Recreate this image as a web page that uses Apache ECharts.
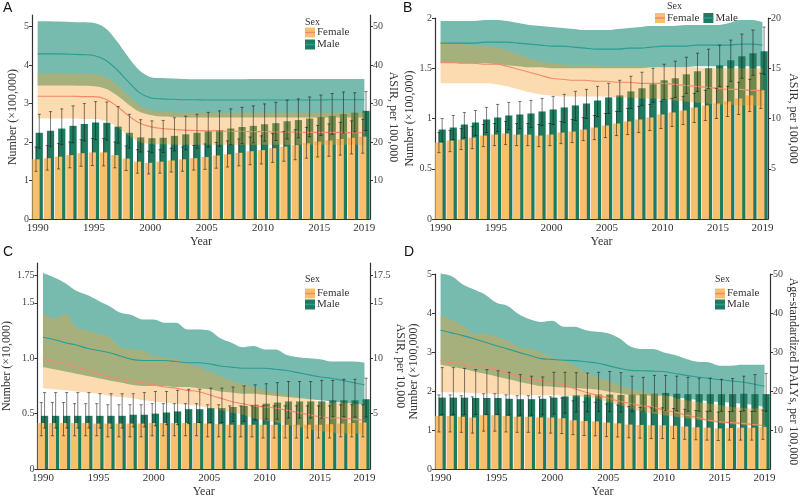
<!DOCTYPE html>
<html><head><meta charset="utf-8">
<script src="https://cdn.jsdelivr.net/npm/echarts@6/dist/echarts.min.js"></script>
<style>html,body{margin:0;padding:0;background:#fff}#c{width:800px;height:499px}</style>
</head><body><div id="c"></div><script>
const years = ['1990','1991','1992','1993','1994','1995','1996','1997','1998','1999','2000','2001','2002','2003','2004','2005','2006','2007','2008','2009','2010','2011','2012','2013','2014','2015','2016','2017','2018','2019'];

// ---------- Panel A ----------
const A_fNum = [1.55,1.58,1.62,1.66,1.71,1.73,1.73,1.66,1.57,1.49,1.46,1.49,1.52,1.55,1.58,1.61,1.65,1.68,1.72,1.76,1.79,1.84,1.88,1.92,1.97,2.01,2.04,2.08,2.11,2.14];
const A_fNumLo = [1.24,1.27,1.30,1.33,1.37,1.39,1.38,1.33,1.26,1.19,1.17,1.19,1.22,1.24,1.27,1.29,1.32,1.35,1.38,1.41,1.43,1.47,1.50,1.54,1.58,1.61,1.63,1.66,1.69,1.71];
const A_fNumHi = [1.87,1.91,1.96,2.00,2.06,2.09,2.09,2.00,1.90,1.80,1.76,1.80,1.84,1.87,1.91,1.95,1.99,2.03,2.08,2.13,2.16,2.22,2.27,2.32,2.38,2.43,2.47,2.51,2.55,2.59];
const A_mNum = [2.24,2.29,2.35,2.42,2.47,2.51,2.50,2.40,2.24,2.12,2.10,2.11,2.16,2.20,2.24,2.28,2.31,2.35,2.39,2.42,2.46,2.49,2.54,2.57,2.61,2.65,2.68,2.73,2.76,2.81];
const A_mNumLo = [1.84,1.88,1.93,1.98,2.03,2.06,2.05,1.97,1.84,1.74,1.72,1.73,1.77,1.80,1.84,1.87,1.89,1.93,1.96,1.98,2.02,2.04,2.08,2.11,2.14,2.17,2.20,2.24,2.26,2.30];
const A_mNumHi = [2.72,2.79,2.86,2.94,3.00,3.05,3.04,2.92,2.72,2.58,2.55,2.56,2.63,2.67,2.72,2.77,2.81,2.86,2.90,2.94,2.99,3.03,3.09,3.12,3.17,3.22,3.26,3.30,3.28,3.31];
const A_fRate = [31.9,31.9,31.9,31.9,31.8,31.8,31.2,29.4,27.0,25.0,24.0,23.5,23.3,23.1,23.0,22.9,22.9,22.8,22.8,22.7,22.7,22.6,22.6,22.6,22.5,22.5,22.5,22.5,22.4,22.4];
const A_fRateLo = [26.1,26.1,26.1,26.1,26.0,26.0,25.5,24.0,21.8,20.1,19.5,19.4,19.3,19.3,19.3,19.3,19.3,19.3,19.3,19.3,19.3,19.3,19.3,19.3,19.3,19.3,19.3,19.3,19.3,19.3];
const A_fRateHi = [37.8,37.8,37.8,37.8,37.7,37.6,36.9,35.0,32.2,29.6,28.3,27.9,27.7,27.6,27.6,27.6,27.6,27.6,27.6,27.6,27.6,27.6,27.6,27.6,27.6,27.6,27.6,27.6,27.6,27.6];
const A_mRate = [42.9,42.9,42.9,42.8,42.7,42.5,41.3,38.9,35.8,32.9,31.5,31.2,31.1,31.0,31.0,30.9,30.9,30.9,30.9,30.9,30.9,30.9,30.9,30.9,30.9,30.9,31.0,31.0,31.0,31.0];
const A_mRateLo = [34.7,34.7,34.7,34.7,34.6,34.5,33.9,32.2,29.9,27.9,27.0,26.6,26.5,26.4,26.4,26.4,26.4,26.4,26.4,26.4,26.4,26.4,26.4,26.4,26.4,26.4,26.4,26.4,26.4,26.4];
const A_mRateHi = [51.4,51.4,51.3,51.2,51.1,50.9,49.6,46.3,42.3,38.7,36.9,36.6,36.5,36.4,36.3,36.3,36.3,36.3,36.3,36.4,36.4,36.4,36.4,36.4,36.4,36.4,36.4,36.4,36.4,36.4];

// ---------- Panel B ----------
const B_fNum = [0.76,0.78,0.79,0.81,0.83,0.84,0.85,0.84,0.84,0.83,0.84,0.86,0.87,0.89,0.91,0.93,0.95,0.97,0.99,1.01,1.04,1.06,1.08,1.11,1.13,1.15,1.17,1.20,1.23,1.28];
const B_fNumLo = [0.66,0.67,0.69,0.70,0.72,0.73,0.74,0.73,0.73,0.72,0.73,0.75,0.76,0.78,0.79,0.81,0.83,0.84,0.86,0.88,0.90,0.92,0.94,0.96,0.98,1.00,1.02,1.04,1.07,1.10];
const B_fNumHi = [0.86,0.88,0.90,0.92,0.94,0.95,0.97,0.95,0.95,0.94,0.95,0.97,0.99,1.01,1.03,1.05,1.07,1.10,1.12,1.14,1.17,1.20,1.22,1.25,1.28,1.30,1.32,1.36,1.39,1.45];
const B_mNum = [0.89,0.91,0.94,0.96,0.99,1.01,1.03,1.04,1.05,1.07,1.09,1.11,1.13,1.15,1.18,1.21,1.23,1.27,1.30,1.34,1.38,1.40,1.44,1.47,1.50,1.53,1.58,1.62,1.65,1.67];
const B_mNumLo = [0.77,0.79,0.81,0.83,0.86,0.87,0.89,0.90,0.91,0.93,0.94,0.96,0.98,1.00,1.02,1.05,1.07,1.10,1.13,1.16,1.19,1.21,1.25,1.27,1.30,1.32,1.37,1.40,1.43,1.44];
const B_mNumHi = [1.00,1.03,1.06,1.08,1.11,1.14,1.16,1.17,1.18,1.20,1.22,1.24,1.27,1.29,1.32,1.35,1.38,1.42,1.46,1.50,1.54,1.57,1.61,1.65,1.69,1.73,1.78,1.84,1.88,1.91];
const B_fRate = [15.6,15.6,15.5,15.5,15.4,15.4,15.2,14.9,14.6,14.3,14.0,13.9,13.8,13.8,13.7,13.7,13.6,13.6,13.5,13.5,13.5,13.4,13.3,13.2,13.1,13.0,12.9,12.9,12.8,12.8];
const B_fRateLo = [13.5,13.5,13.5,13.5,13.5,13.4,13.2,12.9,12.6,12.4,12.3,12.2,12.2,12.2,12.2,12.2,12.1,12.1,12.0,12.0,11.9,11.8,11.7,11.6,11.5,11.4,11.4,11.3,11.3,11.3];
const B_fRateHi = [17.6,17.5,17.4,17.3,17.2,17.1,16.8,16.4,16.0,15.7,15.5,15.4,15.3,15.3,15.3,15.2,15.2,15.2,15.2,15.1,15.1,15.1,15.1,15.1,15.0,15.0,15.0,15.0,15.0,15.0];
const B_mRate = [17.5,17.5,17.5,17.5,17.6,17.6,17.6,17.5,17.4,17.3,17.2,17.2,17.1,17.0,16.9,16.9,16.9,17.0,17.0,17.1,17.2,17.2,17.2,17.3,17.3,17.3,17.3,17.4,17.4,17.3];
const B_mRateLo = [15.5,15.5,15.5,15.5,15.5,15.4,15.3,15.2,15.1,15.1,15.0,15.0,15.0,15.0,15.0,15.0,15.0,15.0,15.0,15.1,15.1,15.1,15.1,15.2,15.2,15.2,15.2,15.2,15.2,15.2];
const B_mRateHi = [19.7,19.7,19.7,19.7,19.8,19.8,19.7,19.5,19.3,19.2,19.1,19.0,18.9,18.8,18.8,18.8,18.9,19.0,19.1,19.2,19.2,19.2,19.3,19.3,19.3,19.3,19.5,19.8,19.8,19.6];

// ---------- Panel C ----------
const C_fNum = [0.415,0.415,0.415,0.415,0.415,0.41,0.41,0.41,0.41,0.41,0.415,0.415,0.415,0.415,0.415,0.41,0.405,0.40,0.40,0.40,0.40,0.40,0.40,0.40,0.40,0.40,0.405,0.41,0.415,0.42];
const C_fNumLo = [0.30,0.30,0.30,0.30,0.30,0.30,0.29,0.29,0.29,0.29,0.30,0.30,0.30,0.30,0.30,0.29,0.29,0.29,0.29,0.29,0.28,0.28,0.28,0.28,0.28,0.28,0.28,0.29,0.29,0.29];
const C_fNumHi = [0.60,0.60,0.60,0.59,0.59,0.59,0.58,0.58,0.58,0.58,0.59,0.59,0.59,0.59,0.59,0.58,0.58,0.57,0.57,0.57,0.57,0.57,0.57,0.57,0.57,0.57,0.57,0.58,0.58,0.58];
const C_mNum = [0.48,0.48,0.48,0.48,0.48,0.48,0.48,0.48,0.49,0.49,0.50,0.51,0.52,0.54,0.54,0.55,0.55,0.56,0.57,0.58,0.59,0.60,0.61,0.61,0.61,0.61,0.62,0.62,0.62,0.63];
const C_mNumLo = [0.37,0.37,0.37,0.37,0.37,0.37,0.37,0.37,0.38,0.38,0.39,0.40,0.40,0.41,0.42,0.42,0.42,0.43,0.43,0.44,0.45,0.45,0.46,0.46,0.46,0.46,0.47,0.47,0.47,0.47];
const C_mNumHi = [0.69,0.69,0.69,0.69,0.69,0.68,0.68,0.68,0.68,0.69,0.70,0.70,0.71,0.72,0.72,0.73,0.73,0.74,0.75,0.76,0.77,0.78,0.79,0.79,0.79,0.80,0.80,0.81,0.81,0.82];
const C_fRate = [9.9,9.7,9.5,9.2,8.9,8.6,8.3,8.1,7.9,7.8,7.6,7.4,7.3,7.1,7.0,6.7,6.4,6.1,5.9,5.7,5.6,5.5,5.3,5.1,4.9,4.7,4.6,4.6,4.5,4.4];
const C_fRateLo = [7.3,7.2,7.1,7.0,6.9,6.8,6.6,6.5,6.4,6.2,6.1,6.0,5.9,5.8,5.7,5.5,5.3,5.1,4.9,4.6,4.4,4.2,4.0,3.8,3.6,3.4,3.3,3.2,3.2,3.1];
const C_fRateHi = [14.1,13.6,14.0,12.8,12.5,12.2,11.9,11.0,10.8,10.7,10.2,10.1,9.9,9.5,9.2,8.8,8.4,8.0,7.7,7.4,7.1,6.9,6.7,6.5,6.3,6.1,6.0,6.0,5.9,5.8];
const C_mRate = [11.9,11.7,11.4,11.2,10.9,10.7,10.5,10.2,9.9,9.8,9.8,9.8,9.7,9.6,9.6,9.5,9.3,9.2,9.1,9.1,9.1,9.0,8.9,8.7,8.5,8.3,8.2,8.0,7.8,7.6];
const C_mRateLo = [9.2,9.0,8.8,8.6,8.4,8.2,8.0,7.8,7.6,7.5,7.5,7.5,7.4,7.4,7.3,7.2,7.0,6.9,6.8,6.8,6.7,6.6,6.5,6.4,6.3,6.2,6.1,6.0,5.9,5.8];
const C_mRateHi = [17.7,17.3,16.8,16.1,15.7,15.2,14.7,14.1,13.9,13.5,13.5,13.2,13.2,12.6,12.6,12.5,11.8,11.4,11.0,11.1,10.8,10.8,10.3,10.1,10.0,9.9,9.7,9.7,9.7,9.6];

// ---------- Panel D ----------
const D_fNum = [1.36,1.36,1.34,1.32,1.38,1.38,1.36,1.34,1.34,1.32,1.32,1.30,1.25,1.23,1.22,1.19,1.17,1.14,1.13,1.12,1.12,1.11,1.09,1.07,1.06,1.04,1.05,1.06,1.06,1.08];
const D_fNumLo = [0.95,0.95,0.94,0.92,0.97,0.97,0.95,0.94,0.94,0.92,0.92,0.91,0.88,0.86,0.85,0.83,0.82,0.80,0.79,0.78,0.78,0.78,0.76,0.75,0.74,0.73,0.74,0.74,0.74,0.76];
const D_fNumHi = [1.90,1.90,1.88,1.85,1.93,1.93,1.90,1.88,1.88,1.85,1.85,1.82,1.75,1.72,1.71,1.67,1.64,1.60,1.58,1.57,1.57,1.55,1.53,1.50,1.48,1.46,1.47,1.48,1.48,1.51];
const D_mNum = [1.83,1.83,1.83,1.82,1.82,1.82,1.80,1.79,1.79,1.80,1.83,1.86,1.89,1.91,1.91,1.91,1.90,1.91,1.92,1.93,1.95,1.93,1.92,1.92,1.92,1.92,1.92,1.93,1.92,1.92];
const D_mNumLo = [1.40,1.40,1.40,1.40,1.40,1.40,1.39,1.38,1.38,1.39,1.41,1.43,1.46,1.47,1.47,1.47,1.46,1.47,1.48,1.49,1.50,1.49,1.48,1.48,1.48,1.48,1.48,1.49,1.48,1.48];
const D_mNumHi = [2.60,2.60,2.58,2.55,2.55,2.52,2.48,2.42,2.38,2.36,2.48,2.48,2.47,2.46,2.48,2.50,2.47,2.38,2.35,2.40,2.40,2.38,2.35,2.33,2.33,2.30,2.32,2.38,2.42,2.45];
const D_fRate = [27.8,27.3,26.9,26.1,26.1,25.5,24.6,23.8,23.1,22.6,22.3,21.6,20.6,19.7,18.9,18.2,17.4,16.8,16.2,15.9,15.1,14.6,13.8,13.2,12.5,12.1,11.9,11.7,11.4,11.1];
const D_fRateLo = [19.7,19.7,19.6,19.5,19.4,19.2,19.1,19.0,18.9,18.9,18.9,18.8,18.6,18.4,18.1,17.2,16.4,15.5,14.7,14.2,13.8,13.4,13.0,12.6,12.2,11.7,11.5,11.3,11.0,10.8];
const D_fRateHi = [39.4,38.2,36.7,34.6,34.7,34.0,32.9,31.2,30.8,29.9,28.6,27.8,26.5,24.8,23.6,22.7,21.4,20.6,19.9,19.3,18.9,18.2,17.6,17.2,16.8,16.4,15.9,15.7,15.5,15.5];
const D_mRate = [35.6,34.9,34.2,33.4,32.5,31.6,30.8,29.9,29.1,28.3,28.1,27.9,27.8,27.5,27.2,26.5,25.8,25.3,25.2,25.1,25.0,24.5,24.0,23.6,23.2,22.9,22.6,22.3,21.8,21.2];
const D_mRateLo = [26.7,26.2,25.7,25.0,24.4,23.7,23.1,22.4,21.8,21.2,21.1,20.9,20.8,20.6,20.4,19.9,19.4,19.0,18.9,18.8,18.8,18.4,18.0,17.7,17.4,17.2,17.0,16.7,16.4,15.9];
const D_mRateHi = [50.1,49.4,47.3,46.0,44.7,42.6,41.8,39.7,38.4,37.7,38.0,36.5,36.5,35.6,35.2,34.8,33.5,31.4,30.8,30.8,29.9,29.2,28.2,27.5,27.4,26.5,26.5,26.7,26.7,26.7];

// ---------- axis ticks / labels ----------
const xLabelYears = ['1990','1995','2000','2005','2010','2015','2019'];
const A_leftTicks = [0,1,2,3,4,5,5.2],   A_rightTicks = [10,20,30,40,50,52];
const B_leftTicks = [0,0.5,1,1.5,2],     B_rightTicks = [5,10,15,20];
const C_leftTicks = [0,0.5,1,1.5,1.75],  C_rightTicks = [5,10,15,17.5];
const D_leftTicks = [0,1,2,3,4,5],       D_rightTicks = [10,20,30,40,50];
const sexLabels = ['Female','Male'];

const COL = {
  fBar:'#F8C06E', mBar:'#1F7B5F',
  fLine:'#F28A6B', mLine:'#2A9E94',
  fBand:'rgba(245,160,45,0.38)', mBand:'rgba(48,150,132,0.66)',
  axis:'#333', err:'rgba(20,20,20,0.72)'
};
const SERIF = '"Liberation Serif","Times New Roman",serif';

const panels = [
  {letter:'A', grid:{left:32,right:430,top:15,bottom:280}, lMax:5.3, rMax:53, lT:A_leftTicks, rT:A_rightTicks,
   lName:'Number (×100,000)', rName:'ASIR, per 100,000', lGap:13, rGap:11,
   d:[A_fNum,A_fNumLo,A_fNumHi,A_mNum,A_mNumLo,A_mNumHi,A_fRate,A_fRateLo,A_fRateHi,A_mRate,A_mRateLo,A_mRateHi],
   legend:{left:305, top:27, orient:'vertical', gap:1}, sex:{left:305, top:17}, letterPos:{left:3, top:1}},
  {letter:'B', grid:{left:435,right:25,top:18,bottom:280}, lMax:2, rMax:20, lT:B_leftTicks, rT:B_rightTicks,
   lName:'Number (×100,000)', rName:'ASIR, per 100,000', lGap:15, rGap:19,
   d:[B_fNum,B_fNumLo,B_fNumHi,B_mNum,B_mNumLo,B_mNumHi,B_fRate,B_fRateLo,B_fRateHi,B_mRate,B_mRateLo,B_mRateHi],
   legend:{left:655, top:12, orient:'horizontal', gap:4}, sex:{left:667, top:1}, letterPos:{left:403, top:1}},
  {letter:'C', grid:{left:32,right:430,top:263,bottom:28}, lMax:1.86, rMax:18.6, lT:C_leftTicks, rT:C_rightTicks,
   lName:'Number (×10,000)', rName:'ASIR, per 10,000', lGap:13, rGap:11,
   d:[C_fNum,C_fNumLo,C_fNumHi,C_mNum,C_mNumLo,C_mNumHi,C_fRate,C_fRateLo,C_fRateHi,C_mRate,C_mRateLo,C_mRateHi],
   legend:{left:305, top:288, orient:'vertical', gap:0}, sex:{left:305, top:274}, letterPos:{left:3, top:245}},
  {letter:'D', grid:{left:435,right:25,top:274,bottom:28}, lMax:5, rMax:50, lT:D_leftTicks, rT:D_rightTicks,
   lName:'Number (×100,000)', rName:'Age-standardized DALYs, per 100,000', lGap:15, rGap:15,
   d:[D_fNum,D_fNumLo,D_fNumHi,D_mNum,D_mNumLo,D_mNumHi,D_fRate,D_fRateLo,D_fRateHi,D_mRate,D_mRateLo,D_mRateHi],
   legend:{left:715, top:288, orient:'vertical', gap:0}, sex:{left:715, top:274}, letterPos:{left:404, top:245}}
];

const BAR_W = 7.2, BAR_GAP = -0.55;
const OFF = (BAR_W * (1 + (1 + BAR_GAP))) / 2 - BAR_W / 2; // half distance between bar centres

const grids = [], xAxes = [], yAxes = [], series = [], legends = [], titles = [];
const labelShown = (i) => xLabelYears.indexOf(years[i]) >= 0;

function fmtLeft(v){ if (v === 1) return '1.0'; return String(v); }

panels.forEach((p, k) => {
  grids.push(Object.assign({containLabel:false}, p.grid));
  xAxes.push({
    type:'category', gridIndex:k, data:years, boundaryGap:true,
    name:'Year', nameLocation:'middle', nameGap:17,
    nameTextStyle:{fontFamily:SERIF, fontSize:12, color:'#333'},
    axisLine:{lineStyle:{color:COL.axis, width:1.2}},
    axisTick:{show:true, inside:true, length:3, alignWithLabel:true, interval:(i)=>labelShown(i), lineStyle:{color:COL.axis}},
    axisLabel:{interval:(i)=>labelShown(i), fontFamily:SERIF, fontSize:11, color:'#333', margin:4},
    splitLine:{show:false}
  });
  const lFmt = (k === 2) ? fmtLeft : (v)=>String(v);
  yAxes.push({
    type:'value', gridIndex:k, min:0, max:p.lMax, position:'left',
    name:p.lName, nameLocation:'middle', nameGap:p.lGap, nameRotate:90,
    nameTextStyle:{fontFamily:SERIF, fontSize:12, color:'#333'},
    axisLine:{show:true, lineStyle:{color:COL.axis, width:1.2}},
    axisTick:{show:true, length:3, customValues:p.lT, lineStyle:{color:COL.axis}},
    axisLabel:{customValues:p.lT, formatter:lFmt, fontFamily:SERIF, fontSize:10, color:'#444', margin:3},
    splitLine:{show:false}
  });
  yAxes.push({
    type:'value', gridIndex:k, min:0, max:p.rMax, position:'right',
    name:p.rName, nameLocation:'middle', nameGap:p.rGap, nameRotate:-90,
    nameTextStyle:{fontFamily:SERIF, fontSize:12, color:'#333'},
    axisLine:{show:true, lineStyle:{color:COL.axis, width:1.2}},
    axisTick:{show:true, length:3, customValues:p.rT, lineStyle:{color:COL.axis}},
    axisLabel:{customValues:p.rT, fontFamily:SERIF, fontSize:10, color:'#444', margin:3},
    splitLine:{show:false}
  });
  const [fN,fNL,fNH,mN,mNL,mNH,fR,fRL,fRH,mR,mRL,mRH] = p.d;
  const yl = 2*k, yr = 2*k+1;
  const diff = (hi, lo) => hi.map((v,i)=> +(v - lo[i]).toFixed(3));
  // male band (under the bars)
  series.push({type:'line', name:'mBandLo'+k, xAxisIndex:k, yAxisIndex:yr, stack:'mb'+k, data:mRL, symbol:'none', smooth:0.35,
               lineStyle:{opacity:0}, z:1, silent:true});
  series.push({type:'line', name:'mBand'+k, xAxisIndex:k, yAxisIndex:yr, stack:'mb'+k, data:diff(mRH,mRL), symbol:'none', smooth:0.35,
               lineStyle:{opacity:0}, areaStyle:{color:COL.mBand, opacity:1}, z:1, silent:true});
  // bars: female (left, in front) and male (right, behind)
  series.push({type:'bar', name:'Female', xAxisIndex:k, yAxisIndex:yl, data:fN, barWidth:BAR_W, barGap:(BAR_GAP*100)+'%',
               itemStyle:{color:COL.fBar}, z:3});
  series.push({type:'bar', name:'Male', xAxisIndex:k, yAxisIndex:yl, data:mN, barWidth:BAR_W, barGap:(BAR_GAP*100)+'%',
               itemStyle:{color:COL.mBar}, z:2});
  // female band (over the bars)
  series.push({type:'line', name:'fBandLo'+k, xAxisIndex:k, yAxisIndex:yr, stack:'fb'+k, data:fRL, symbol:'none', smooth:0.35,
               lineStyle:{opacity:0}, z:4, silent:true});
  series.push({type:'line', name:'fBand'+k, xAxisIndex:k, yAxisIndex:yr, stack:'fb'+k, data:diff(fRH,fRL), symbol:'none', smooth:0.35,
               lineStyle:{opacity:0}, areaStyle:{color:COL.fBand, opacity:1}, z:4, silent:true});
  // rate lines
  series.push({type:'line', name:'Female', xAxisIndex:k, yAxisIndex:yr, data:fR, symbol:'none', smooth:0.35,
               lineStyle:{color:COL.fLine, width:1.1}, itemStyle:{color:COL.fLine}, z:5});
  series.push({type:'line', name:'Male', xAxisIndex:k, yAxisIndex:yr, data:mR, symbol:'none', smooth:0.35,
               lineStyle:{color:COL.mLine, width:1.1}, itemStyle:{color:COL.mLine}, z:5});
  // error bars
  const errSeries = (lo, hi, dx) => ({
    type:'custom', name:'err', xAxisIndex:k, yAxisIndex:yl, z:6, silent:true,
    data: lo.map((v,i)=>[i, v, hi[i]]),
    encode:{x:0, y:[1,2]},
    renderItem:(params, api) => {
      const a = api.coord([api.value(0), api.value(1)]);
      const b = api.coord([api.value(0), api.value(2)]);
      const cx = a[0] + dx, w = 1.6;
      const st = {stroke:COL.err, lineWidth:0.75};
      return {type:'group', children:[
        {type:'line', shape:{x1:cx, y1:a[1], x2:cx, y2:b[1]}, style:st},
        {type:'line', shape:{x1:cx-w, y1:a[1], x2:cx+w, y2:a[1]}, style:st},
        {type:'line', shape:{x1:cx-w, y1:b[1], x2:cx+w, y2:b[1]}, style:st}
      ]};
    }
  });
  series.push(errSeries(fNL, fNH, -OFF));
  series.push(errSeries(mNL, mNH, OFF));

  // legends: square icons + line across
  const lg = p.legend;
  const common = {orient:lg.orient, left:lg.left, top:lg.top, itemWidth:10, itemHeight:10, itemGap:lg.gap,
                  selectedMode:false, padding:0,
                  textStyle:{fontFamily:SERIF, fontSize:11, lineHeight:lg.orient==='vertical'?(lg.gap?11:10):12, color:'#333', padding:[0,0,0,-3]}};
  legends.push(Object.assign({}, common, {
    data: sexLabels.map((n,i)=>({name:n, icon:'rect', itemStyle:{color: i===0?COL.fBar:COL.mBar}}))
  }));
  legends.push(Object.assign({}, common, {
    itemHeight:1.5,
    textStyle:Object.assign({}, common.textStyle, {color:'rgba(0,0,0,0)'}),
    data: sexLabels.map((n,i)=>({name:n, icon:'rect', itemStyle:{color: i===0?COL.fLine:COL.mLine}}))
  }));
  titles.push({text:p.letter, left:p.letterPos.left, top:p.letterPos.top, padding:0,
               textStyle:{fontFamily:'"Liberation Sans",Arial,sans-serif', fontSize:14, fontWeight:'normal', color:'#111'}});
  titles.push({text:'Sex', left:p.sex.left, top:p.sex.top, padding:0,
               textStyle:{fontFamily:SERIF, fontSize:10, fontWeight:'normal', color:'#333'}});
});

const chart = echarts.init(document.getElementById('c'), null, {renderer:'canvas'});
chart.setOption({
  animation:false, backgroundColor:'#fff',
  title:titles, legend:legends, grid:grids, xAxis:xAxes, yAxis:yAxes, series:series
});
</script></body></html>
